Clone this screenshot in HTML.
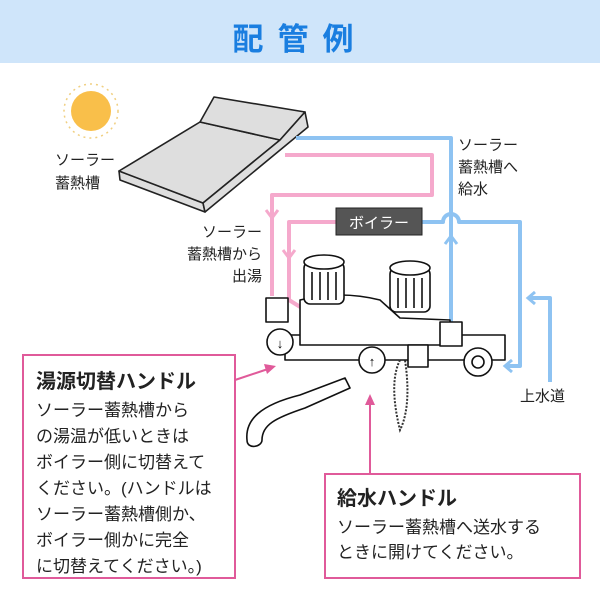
<!DOCTYPE html>
<html><head><meta charset="utf-8"><style>
body{margin:0;width:600px;height:600px;overflow:hidden;background:#fff;font-family:"Liberation Sans","Noto Sans CJK JP",sans-serif}
svg{position:absolute;left:0;top:0}
</style></head><body>
<svg width="600" height="600" viewBox="0 0 600 600" font-family="Liberation Sans, Noto Sans CJK JP, sans-serif">
<rect x="0" y="0" width="600" height="63" fill="#cfe5fa"/>
<text x="300" y="50" text-anchor="middle" font-size="31" font-weight="bold" fill="#1a7ee0" letter-spacing="14">配管例</text>
<!-- sun -->
<circle cx="91" cy="111" r="20" fill="#f9bf4a"/>
<circle cx="91" cy="111" r="27" stroke="#f0cf80" stroke-width="1.5" fill="none" stroke-dasharray="2 4"/>
<!-- panel -->
<g stroke="#222" stroke-width="1.6" fill="#dedede" stroke-linejoin="round">
<polygon points="119,171 203,203 205,212 120,180"/>
<polygon points="119,171 200,122 280,140 203,203"/>
<polygon points="200,122 214,97 305,112 280,140"/>
<polygon points="203,203 280,140 305,112 308,127 205,212"/>
</g>
<text font-size="15" fill="#222"><tspan x="55" y="165">ソーラー</tspan><tspan x="55" y="188">蓄熱槽</tspan></text>
<!-- pipes -->
<g fill="none" stroke-width="4" stroke-linejoin="round">
<path d="M296,138 H451 V325" stroke="#8ec3f2"/>
<path d="M422,222 H443 a8,8 0 0 1 16,0 H520 V366 H505" stroke="#8ec3f2"/>
<path d="M550,382 V298 H528" stroke="#8ec3f2"/>
<path d="M285,155 H432 V195 H272 V296" stroke="#f5a9cc"/>
<path d="M336,222 H289 V300 L318,318" stroke="#f5a9cc"/>
</g>
<g fill="none" stroke-width="3">
<path d="M266,210 L272,218 L278,210" stroke="#f5a9cc"/>
<path d="M283,250 L289,258 L295,250" stroke="#f5a9cc"/>
<path d="M445,244 L451,236 L457,244" stroke="#8ec3f2"/>
<path d="M535,292 L528,298 L535,304" stroke="#8ec3f2"/>
<path d="M512,360 L505,366 L512,372" stroke="#8ec3f2"/>
</g>
<rect x="336" y="208" width="86" height="27" fill="#555" stroke="#222"/>
<text x="379" y="228" text-anchor="middle" font-size="15" fill="#fff">ボイラー</text>
<text font-size="15" fill="#222"><tspan x="458" y="150">ソーラー</tspan><tspan x="458" y="172">蓄熱槽へ</tspan><tspan x="458" y="194">給水</tspan></text>
<text font-size="15" fill="#222" text-anchor="end"><tspan x="262" y="237">ソーラー</tspan><tspan x="262" y="259">蓄熱槽から</tspan><tspan x="262" y="281">出湯</tspan></text>
<text x="520" y="401" font-size="15" fill="#222">上水道</text>
<!-- faucet -->
<g stroke="#111" stroke-width="1.6" fill="#fff" stroke-linejoin="round">
<path d="M247,440 C245,420 260,405 300,395 L345,378 L350,388 L305,408 C275,418 262,425 262,440 C262,447 247,450 247,440Z"/>
<path d="M285,335 H505 V360 H285Z"/>
<path d="M300,300 Q340,290 380,300 L400,318 L450,320 L450,345 L300,345Z"/>
<rect x="304" y="262" width="40" height="42" rx="6"/>
<ellipse cx="324" cy="262" rx="20" ry="7"/>
<rect x="390" y="268" width="40" height="44" rx="6"/>
<ellipse cx="410" cy="268" rx="20" ry="7"/>
<path d="M312,272 V300 M320,272 V300 M328,272 V300 M336,272 V300 M398,278 V308 M406,278 V308 M414,278 V308 M422,278 V308" fill="none"/>
<rect x="266" y="298" width="22" height="24"/>
<rect x="440" y="322" width="22" height="24"/>
<circle cx="280" cy="342" r="13"/>
<circle cx="372" cy="360" r="13"/>
<circle cx="478" cy="362" r="14"/>
<circle cx="478" cy="362" r="6"/>
<rect x="408" y="345" width="20" height="22"/>
</g>
<text x="280" y="348" text-anchor="middle" font-size="13" font-weight="bold">↓</text>
<text x="372" y="366" text-anchor="middle" font-size="13" font-weight="bold">↑</text>
<path d="M400,360 C390,380 395,410 400,430 C410,410 408,380 405,360" fill="none" stroke="#333" stroke-width="2" stroke-dasharray="2 1.5"/>
<!-- callouts -->
<g stroke="#e05a9a" stroke-width="2" fill="none">
<rect x="23" y="355" width="212" height="223" fill="#fff"/>
<rect x="325" y="474" width="255" height="104" fill="#fff"/>
<line x1="235" y1="380" x2="268" y2="369"/>
<line x1="370" y1="474" x2="370" y2="402"/>
</g>
<g fill="#e05a9a"><polygon points="276,366 264,364 267,374"/><polygon points="370,394 365,405 375,405"/></g>
<text x="36" y="388" font-size="20" font-weight="bold" fill="#222">湯源切替ハンドル</text>
<text font-size="17" fill="#222"><tspan x="36" y="416">ソーラー蓄熱槽から</tspan><tspan x="36" y="442">の湯温が低いときは</tspan><tspan x="36" y="468">ボイラー側に切替えて</tspan><tspan x="36" y="494">ください。(ハンドルは</tspan><tspan x="36" y="520">ソーラー蓄熱槽側か、</tspan><tspan x="36" y="546">ボイラー側かに完全</tspan><tspan x="36" y="572">に切替えてください。)</tspan></text>
<text x="337" y="505" font-size="20" font-weight="bold" fill="#222">給水ハンドル</text>
<text font-size="17" fill="#222"><tspan x="337" y="533">ソーラー蓄熱槽へ送水する</tspan><tspan x="337" y="558">ときに開けてください。</tspan></text>
</svg>
</body></html>
